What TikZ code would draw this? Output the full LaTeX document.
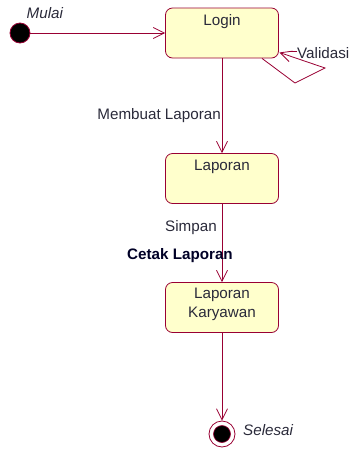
\documentclass[tikz,border=0pt]{standalone}
\usepackage{fontspec}
\setmainfont{Liberation Sans}
\usetikzlibrary{arrows.meta}
\definecolor{garis}{HTML}{990033}
\definecolor{isian}{HTML}{FFFFCC}
\definecolor{teks}{HTML}{2A2A3A}
\tikzset{
  keadaan/.style={draw=garis,fill=isian,rounded corners=7pt,line width=0.8pt,
    minimum width=113pt,minimum height=50pt,inner sep=0pt},
  judul/.style={anchor=north,inner sep=0pt,yshift=-7pt,align=center,text=teks},
  awal/.style={circle,draw=garis,fill=black,line width=0.8pt,minimum size=20pt,inner sep=0pt},
  akhir/.style={circle,draw=garis,fill=white,line width=0.8pt,minimum size=26pt,inner sep=0pt,
    path picture={\fill[black,draw=garis,line width=0.6pt] (path picture bounding box.center) circle (8.5pt);}},
  transisi/.style={draw=garis,line width=0.8pt,-{Straight Barb[length=11pt,width=11pt]}},
  ket/.style={inner sep=0pt,text=teks}
}
\begin{document}
\begin{tikzpicture}[x=1pt,y=-1pt,font=\fontsize{15.2}{19}\selectfont]
\useasboundingbox (0,0) rectangle (352,451);
% keadaan awal dan akhir
\node[awal] (mulai) at (20,33) {};
\node[akhir] (selesai) at (222,434) {};
\node[ket,anchor=base west] (lblmulai) at (26.5,18.3) {\itshape Mulai};
\node[ket,anchor=base west] (lblselesai) at (243,435) {\itshape Selesai};
% kotak keadaan
\node[keadaan] (login) at (222,33) {};
\node[judul] at (login.north) {Login};
\node[keadaan] (laporan) at (222,178.5) {};
\node[judul] at (laporan.north) {Laporan};
\node[keadaan] (karyawan) at (222,307.5) {};
\node[judul,yshift=1pt] at (karyawan.north) {Laporan\\Karyawan};
% transisi
\draw[transisi] (mulai) -- (login);
\draw[transisi] (login) -- (laporan);
\draw[transisi] (laporan) -- (karyawan);
\draw[transisi] (karyawan) -- (selesai);
\coordinate (loopa) at (295,83);
\coordinate (loopb) at (325,68);
\coordinate (loopc) at (279.5,52.5);
\draw[transisi] (login.south -| 262,0) -- (loopa) -- (loopb) -- (loopc);
% label transisi
\node[ket,anchor=base east] (lblbuat) at (221,119) {Membuat Laporan};
\node[ket,anchor=base west] (lblsimpan) at (165,231.7) {Simpan};
\node[ket,anchor=base west,text=black!85!blue] (lblcetak) at (127,259.3) {\bfseries Cetak Laporan};
\node[ket,anchor=base west] (lblvalidasi) at (297,58.5) {Validasi};
\draw[garis,line width=0.8pt] (lblvalidasi.west |- 0,51) -- (289,51);
\end{tikzpicture}
\end{document}
